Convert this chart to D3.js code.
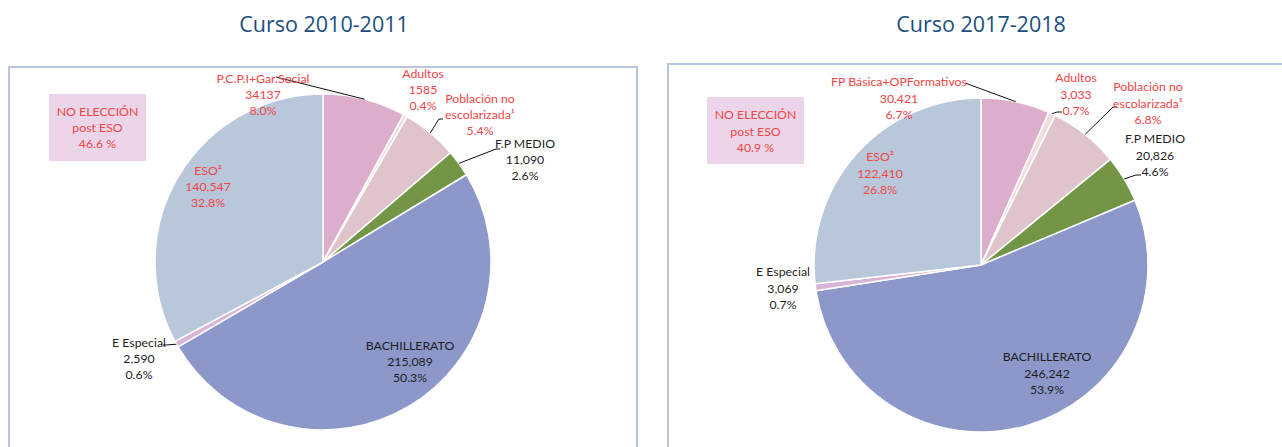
<!DOCTYPE html>
<html>
<head>
<meta charset="utf-8">
<script src="https://cdn.jsdelivr.net/npm/d3@7"></script>
<style>
  body { margin: 0; background: #fff; }
  svg { display: block; }
</style>
</head>
<body>
<svg id="chart" width="1282" height="447"></svg>
<script>
/* global d3 */

// curso 2010-2011 (value of "Población no escolarizada" not printed, estimated from its %)
var categories2010 = ['P.C.P.I+Gar.Social', 'Adultos', 'Población no\nescolarizada¹', 'F.P MEDIO', 'BACHILLERATO', 'E Especial', 'ESO²']
var values2010 = [34137, 1585, 23000, 11090, 215089, 2590, 140547]
var counts2010 = ['34137', '1585', '', '11,090', '215,089', '2,590', '140,547']
var percents2010 = ['8.0%', '0.4%', '5.4%', '2.6%', '50.3%', '0.6%', '32.8%']

// curso 2017-2018
var categories2017 = ['FP Básica+OPFormativos', 'Adultos', 'Población no\nescolarizada¹', 'F.P MEDIO', 'BACHILLERATO', 'E Especial', 'ESO²']
var values2017 = [30421, 3033, 31000, 20826, 246242, 3069, 122410]
var counts2017 = ['30,421', '3,033', '', '20,826', '246,242', '3,069', '122,410']
var percents2017 = ['6.7%', '0.7%', '6.8%', '4.6%', '53.9%', '0.7%', '26.8%']

// which slices are "no elección post ESO"
var noEleccion = [true, true, true, false, false, false, true]

var sliceColors = ['#dcaecb', '#f1dcdc', '#dfc4ca', '#739546', '#8c97ca', '#d8b4d8', '#b8c7da']
var red = '#f24545'
var dark = '#1e1e1e'

var svg = d3.select('#chart')

// label offsets are relative to the pie centre; leader points too
var charts = [
  {
    title: 'Curso 2010-2011', titleX: 324,
    panel: {x: 9, y: 67, w: 628},
    cx: 323, cy: 262, r: 168, lineH: 16,
    categories: categories2010, values: values2010, counts: counts2010, percents: percents2010,
    labels: [[-60, -183], [100, -188], [157, -163], [202, -118], [87, 84], [-184, 81], [-115, -91]],
    leaders: [[[-47, -185]], null, [[116, -143], [120, -143]], [[173, -113], [177, -113]], null, [[-157, 83], [-160, 83]], null],
    box: {x: 49, y: 94, w: 97, h: 67}
  },
  {
    title: 'Curso 2017-2018', titleX: 981,
    panel: {x: 668, y: 64, w: 640},
    cx: 981, cy: 265, r: 167, lineH: 16.5,
    categories: categories2017, values: values2017, counts: counts2017, percents: percents2017,
    labels: [[-82, -183], [95, -187], [167, -178], [174, -126], [66, 92], [-198, 7], [-101, -108]],
    leaders: [[[-16, -182]], [[76, -153], [81, -153]], [[132, -158], [136, -158]], [[155, -90], [160, -90]], null, null, null],
    box: {x: 707, y: 97, w: 97, h: 67}
  }
]

charts.forEach(drawChart)

function drawChart (c) {
  // title
  svg.append('text')
    .attr('x', c.titleX)
    .attr('y', 24)
    .attr('dy', '0.35em')
    .attr('text-anchor', 'middle')
    .style('font-family', '"Open Sans", sans-serif')
    .style('font-size', '21.5px')
    .style('fill', '#1b4f7f')
    .text(c.title)

  // panel frame
  svg.append('rect')
    .attr('x', c.panel.x)
    .attr('y', c.panel.y)
    .attr('width', c.panel.w)
    .attr('height', 447)
    .attr('fill', '#fff')
    .attr('stroke', '#b9c5dc')
    .attr('stroke-width', 2)

  var pie = d3.pie().sort(null).value(function (d) { return d })
  var arcs = pie(c.values)
  var arc = d3.arc().innerRadius(0).outerRadius(c.r)
  var edge = d3.arc().innerRadius(c.r).outerRadius(c.r)

  var g = svg.append('g')
    .attr('transform', 'translate(' + c.cx + ',' + c.cy + ')')

  g.selectAll('.slice')
    .data(arcs)
    .enter().append('path')
    .attr('class', 'slice')
    .attr('d', arc)
    .attr('fill', function (d, i) { return sliceColors[i] })
    .attr('stroke', '#fff')
    .attr('stroke-width', 1.5)
    .attr('stroke-linejoin', 'round')

  // leader lines: from the slice edge to the label
  arcs.forEach(function (d, i) {
    if (!c.leaders[i]) return
    var pts = [edge.centroid(d)].concat(c.leaders[i])
    g.append('path')
      .attr('d', d3.line()(pts))
      .attr('fill', 'none')
      .attr('stroke', '#111')
      .attr('stroke-width', 1)
  })

  // labels
  arcs.forEach(function (d, i) {
    var lines = c.categories[i].split('\n')
    if (c.counts[i]) lines.push(c.counts[i])
    lines.push(c.percents[i])
    var t = g.append('text')
      .attr('text-anchor', 'middle')
      .style('font-family', 'Lato, "Open Sans", sans-serif')
      .style('font-size', '12.3px')
      .style('fill', noEleccion[i] ? red : dark)
    lines.forEach(function (line, k) {
      t.append('tspan')
        .attr('x', c.labels[i][0])
        .attr('y', c.labels[i][1] + k * c.lineH)
        .attr('dy', '0.35em')
        .text(line)
    })
  })

  // "no elección" box, share computed from the red slices
  var total = d3.sum(c.values)
  var share = d3.sum(c.values.filter(function (v, i) { return noEleccion[i] })) / total
  svg.append('rect')
    .attr('x', c.box.x)
    .attr('y', c.box.y)
    .attr('width', c.box.w)
    .attr('height', c.box.h)
    .attr('fill', '#ecd5e8')
  var bt = svg.append('text')
    .attr('text-anchor', 'middle')
    .style('font-family', 'Lato, "Open Sans", sans-serif')
    .style('font-size', '12.3px')
    .style('fill', red)
  ;['NO ELECCIÓN', 'post ESO', d3.format('.1f')(share * 100) + ' %'].forEach(function (line, k) {
    bt.append('tspan')
      .attr('x', c.box.x + c.box.w / 2)
      .attr('y', c.box.y + 18 + k * c.lineH)
      .attr('dy', '0.35em')
      .text(line)
  })
}
</script>
</body>
</html>
